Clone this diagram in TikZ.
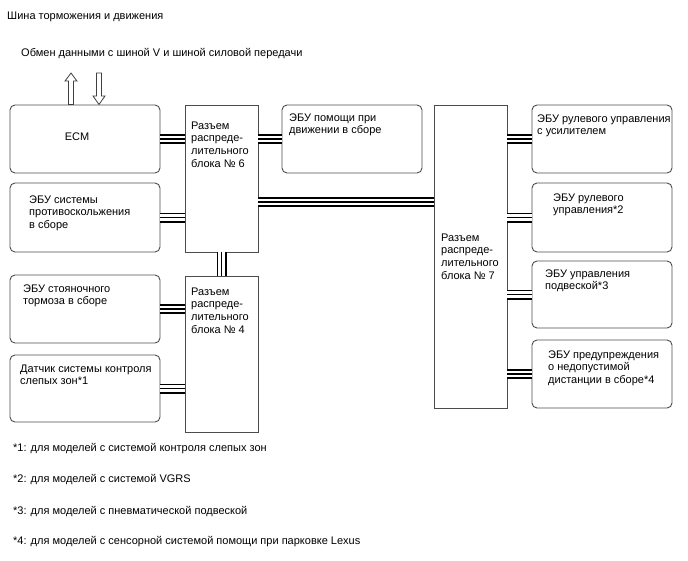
\documentclass[tikz,border=0pt]{standalone}
\usepackage{fontspec}
\setmainfont{Liberation Sans}
\usetikzlibrary{fit}
\begin{document}
\begin{tikzpicture}[x=1pt,y=-1pt,
  every node/.style={font=\fontsize{11}{12.7}\selectfont},
  rbox/.style={draw=black!70, line width=0.9pt, rounded corners=5pt, inner sep=0pt},
  sbox/.style={draw=black!70, line width=0.9pt, inner sep=0pt},
  txt/.style={anchor=base west, align=left, inner sep=0pt},
  bus/.style={line width=10pt, postaction={draw=white, line width=6.6pt}, postaction={draw=black, line width=1.4pt}},
  hollow/.style={draw=black!75, line width=0.8pt, fill=white}]
\useasboundingbox (0,0) rectangle (688,560);
% headings
\node[txt] (title) at (7,19) {Шина торможения и движения};
\node[txt] (xchg) at (21,56) {Обмен данными с шиной V и шиной силовой передачи};
% boxes
\node[rbox, fit={(10,105) (160,173)}] (ecm) {};
\node[rbox, fit={(10,183) (160,252)}] (antiskid) {};
\node[rbox, fit={(10,275) (160,343)}] (park) {};
\node[rbox, fit={(10,355) (160,422)}] (bsm) {};
\node[sbox, fit={(185,105) (258,252)}] (b6) {};
\node[sbox, fit={(185,276) (258,432)}] (b4) {};
\node[rbox, fit={(282,105) (422,173)}] (assist) {};
\node[sbox, fit={(434,105) (507,408)}] (b7) {};
\node[rbox, fit={(532,105) (672,173)}] (eps) {};
\node[rbox, fit={(532,183) (672,252)}] (vgrs) {};
\node[rbox, fit={(532,261) (672,328)}] (susp) {};
\node[rbox, fit={(532,340) (672,408)}] (pcs) {};
% texts (anchored at the baseline of the last line)
\node (ecmt) at (77,137) {ECM};
\node[txt] (antiskidt) at (29,228.4) {ЭБУ системы\\противоскольжения\\в сборе};
\node[txt] (parkt) at (23,304.7) {ЭБУ стояночного\\тормоза в сборе};
\node[txt] (bsmt) at (20,384.7) {Датчик системы контроля\\слепых зон*1};
\node[txt] (b6t) at (191,167.1) {Разъем\\распреде-\\лительного\\блока № 6};
\node[txt] (b4t) at (191,333.1) {Разъем\\распреде-\\лительного\\блока № 4};
\node[txt] (b7t) at (441,279.1) {Разъем\\распреде-\\лительного\\блока № 7};
\node[txt] (assistt) at (289,133.7) {ЭБУ помощи при\\движении в сборе};
\node[txt] (epst) at (537,134.7) {ЭБУ рулевого управления\\с усилителем};
\node[txt] (vgrst) at (553,213.7) {ЭБУ рулевого\\управления*2};
\node[txt] (suspt) at (545,289.7) {ЭБУ управления\\подвеской*3};
\node[txt] (pcst) at (548,383.4) {ЭБУ предупреждения\\о недопустимой\\дистанции в сборе*4};
% footnotes
\node[txt] (f1) at (13,451) {*1: для моделей с системой контроля слепых зон};
\node[txt] (f2) at (13,482) {*2: для моделей с системой VGRS};
\node[txt] (f3) at (13,514) {*3: для моделей с пневматической подвеской};
\node[txt] (f4) at (13,544) {*4: для моделей с сенсорной системой помощи при парковке Lexus};
% hollow arrows
\draw[hollow] (71,73) -- (77,81) -- (73.5,81) -- (73.5,104.5) -- (68.5,104.5) -- (68.5,81) -- (65,81) -- cycle;
\draw[hollow] (99,104.5) -- (105,96) -- (101.5,96) -- (101.5,73) -- (96.5,73) -- (96.5,96) -- (93,96) -- cycle;
% bus connectors
\coordinate (j67) at (300,202);
\draw[bus] (ecm.east) -- (ecm.east -| b6.west);
\draw[bus] (antiskid.east) -- (antiskid.east -| b6.west);
\draw[bus] (park.east) -- (park.east -| b4.west);
\draw[bus] (bsm.east) -- (bsm.east -| b4.west);
\draw[bus] (b6.east |- assist.west) -- (assist.west);
\draw[bus] (b6.east |- j67) -- (b7.west |- j67);
\draw[bus] (b6.south) -- (b4.north);
\draw[bus] (b7.east |- eps.west) -- (eps.west);
\draw[bus] (b7.east |- vgrs.west) -- (vgrs.west);
\draw[bus] (b7.east |- susp.west) -- (susp.west);
\draw[bus] (b7.east |- pcs.west) -- (pcs.west);
\end{tikzpicture}
\end{document}
